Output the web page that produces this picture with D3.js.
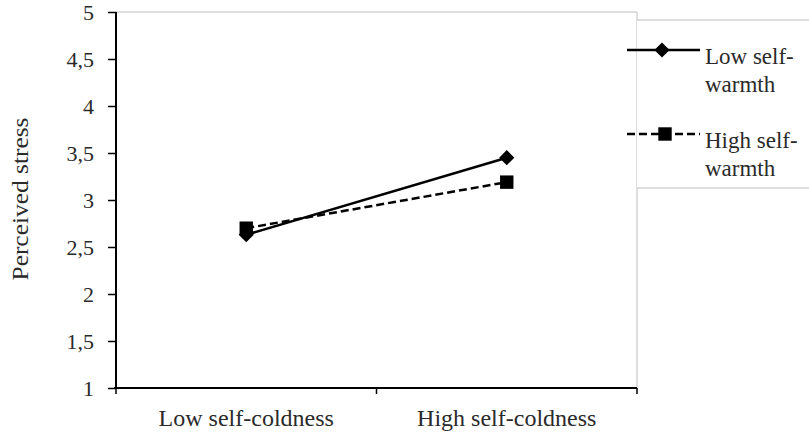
<!DOCTYPE html>
<html>
<head>
<meta charset="utf-8">
<script src="https://cdn.jsdelivr.net/npm/d3@7"></script>
<style>
  body { margin: 0; background: #fff; }
  svg { display: block; font-family: "Liberation Serif", "Times New Roman", serif; }
</style>
</head>
<body>
<svg id="chart" width="809" height="432"></svg>
<script>
// chart data
const categories = ["Low self-coldness", "High self-coldness"];
const seriesNames = ["Low self-warmth", "High self-warmth"];
const lowWarmth = [2.63, 3.45];
const highWarmth = [2.70, 3.19];
const yTicks = [1, 1.5, 2, 2.5, 3, 3.5, 4, 4.5, 5];

var svg = d3.select("#chart");
var marge = {top: 12, left: 116, right: 637, bottom: 388};
var serif = "'Liberation Serif', 'Times New Roman', serif";

var xScale = d3.scaleBand()
    .domain(categories)
    .range([marge.left, marge.right]);
var yScale = d3.scaleLinear()
    .domain([1, 5])
    .range([marge.bottom, marge.top]);

// grey frame of plot area (top + right)
svg.append("path")
    .attr("d", "M" + marge.left + "," + marge.top + "H" + marge.right + "V" + marge.bottom)
    .attr("fill", "none")
    .attr("stroke", "#bdbdbd")
    .attr("stroke-width", 1);

// y axis
var yAxis = d3.axisLeft(yScale)
    .tickValues(yTicks)
    .tickSize(8)
    .tickPadding(14)
    .tickFormat(d => String(d).replace(".", ","));
var gy = svg.append("g")
    .attr("transform", "translate(" + marge.left + ",0)")
    .call(yAxis);
gy.select(".domain").attr("stroke", "#000").attr("stroke-width", 2).attr("d", "M0," + marge.bottom + "V" + marge.top);
gy.selectAll(".tick line").attr("stroke", "#000").attr("stroke-width", 1.5);
gy.selectAll(".tick text")
    .attr("fill", "#2a2a2a")
    .style("font-family", serif)
    .style("font-size", "22px");

// x axis
var gx = svg.append("g")
    .attr("transform", "translate(0," + marge.bottom + ")");
gx.append("line")
    .attr("x1", marge.left - 2).attr("x2", marge.right)
    .attr("stroke", "#000").attr("stroke-width", 2);
gx.selectAll("line.tk")
    .data([marge.left, xScale(categories[1]), marge.right])
    .join("line").attr("class", "tk")
    .attr("x1", d => d).attr("x2", d => d)
    .attr("y1", 0).attr("y2", 6)
    .attr("stroke", "#000").attr("stroke-width", 1.5);
gx.selectAll("text")
    .data(categories)
    .join("text")
    .attr("x", d => xScale(d) + xScale.bandwidth() / 2)
    .attr("y", 38)
    .attr("text-anchor", "middle")
    .attr("fill", "#2a2a2a")
    .style("font-size", "24px")
    .text(d => d);

// y title
svg.append("text")
    .attr("transform", "translate(28,199) rotate(-90)")
    .attr("text-anchor", "middle")
    .attr("fill", "#2a2a2a")
    .style("font-size", "24px")
    .attr("textLength", 163)
    .attr("lengthAdjust", "spacingAndGlyphs")
    .text("Perceived stress");

var cx = d => xScale(d) + xScale.bandwidth() / 2;
var line = d3.line()
    .x(d => cx(d.cat))
    .y(d => yScale(d.v));

var lowData = categories.map((c, i) => ({cat: c, v: lowWarmth[i]}));
var highData = categories.map((c, i) => ({cat: c, v: highWarmth[i]}));

var squareSym = d3.symbol().type(d3.symbolSquare).size(180);
var diamondSym = d3.symbol().type(d3.symbolSquare).size(115); // rotated 45deg below

// high self-warmth (dashed, squares)
svg.append("path")
    .datum(highData)
    .attr("d", line)
    .attr("fill", "none")
    .attr("stroke", "#000")
    .attr("stroke-width", 2.5)
    .attr("stroke-dasharray", "8,4");
svg.selectAll("path.sq")
    .data(highData)
    .join("path").attr("class", "sq")
    .attr("transform", d => "translate(" + cx(d.cat) + "," + yScale(d.v) + ")")
    .attr("d", squareSym)
    .attr("fill", "#000");

// low self-warmth (solid, diamonds)
svg.append("path")
    .datum(lowData)
    .attr("d", line)
    .attr("fill", "none")
    .attr("stroke", "#000")
    .attr("stroke-width", 2.5);
svg.selectAll("path.dm")
    .data(lowData)
    .join("path").attr("class", "dm")
    .attr("transform", d => "translate(" + cx(d.cat) + "," + yScale(d.v) + ") rotate(45)")
    .attr("d", diamondSym)
    .attr("fill", "#000");

// legend box
var lg = svg.append("g");
lg.append("rect")
    .attr("x", 637).attr("y", 20)
    .attr("width", 180).attr("height", 168)
    .attr("fill", "#fff");
lg.append("line").attr("x1", 637).attr("x2", 809).attr("y1", 20).attr("y2", 20)
    .attr("stroke", "#bdbdbd");
lg.append("line").attr("x1", 637).attr("x2", 809).attr("y1", 188).attr("y2", 188)
    .attr("stroke", "#bdbdbd");

var legendRows = [
    {name: seriesNames[0], y: 50, dash: null, sym: diamondSym, rot: 45, x: 662},
    {name: seriesNames[1], y: 134, dash: "8,4", sym: squareSym, rot: 0, x: 665}
];
legendRows.forEach(function(r) {
    lg.append("line")
        .attr("x1", 627).attr("x2", 700)
        .attr("y1", r.y).attr("y2", r.y)
        .attr("stroke", "#000").attr("stroke-width", 2.5)
        .attr("stroke-dasharray", r.dash);
    lg.append("path")
        .attr("transform", "translate(" + r.x + "," + r.y + ") rotate(" + r.rot + ")")
        .attr("d", r.sym)
        .attr("fill", "#000");
    var parts = r.name.split("-");
    var t = lg.append("text")
        .attr("x", 705).attr("y", r.y + 14)
        .attr("fill", "#2a2a2a")
        .style("font-size", "23px");
    t.append("tspan").attr("x", 705).text(parts[0] + "-");
    t.append("tspan").attr("x", 705).attr("dy", 28).text(parts[1]);
});
</script>
</body>
</html>
